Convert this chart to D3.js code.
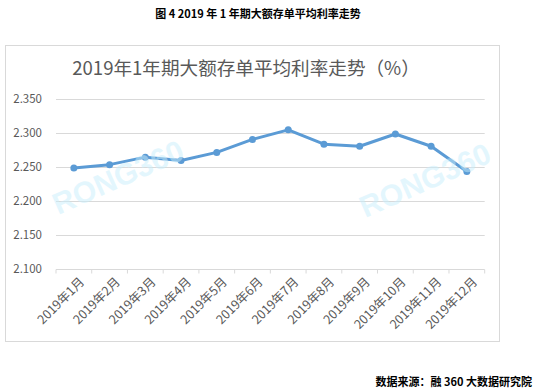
<!DOCTYPE html>
<html><head><meta charset="utf-8">
<script src="https://cdn.jsdelivr.net/npm/d3@7/dist/d3.min.js"></script>
<style>body{margin:0;background:#fff}svg{display:block}</style>
</head><body>
<script>
const months = ["2019年1月","2019年2月","2019年3月","2019年4月","2019年5月","2019年6月","2019年7月","2019年8月","2019年9月","2019年10月","2019年11月","2019年12月"];
const rates = [2.248,2.253,2.264,2.259,2.271,2.290,2.304,2.283,2.280,2.298,2.280,2.243];
const yTicks = [2.100,2.150,2.200,2.250,2.300,2.350];
const captionText = "图 4 2019 年 1 年期大额存单平均利率走势";
const chartTitle = "2019年1年期大额存单平均利率走势（%）";
const sourceText = "数据来源：融 360 大数据研究院";

const W=534,H=392;
const svg=d3.select("body").append("svg").attr("width",W).attr("height",H);
const font="'Microsoft YaHei','Noto Sans CJK SC',sans-serif";

svg.append("text").attr("x",258).attr("y",18).attr("text-anchor","middle")
 .attr("font-family","'Noto Sans CJK SC',sans-serif").attr("font-weight","bold").attr("font-size",11).attr("fill","#000").text(captionText);

svg.append("rect").attr("x",5.5).attr("y",45.5).attr("width",494).attr("height",296)
 .attr("fill","#fff").attr("stroke","#d9d9d9");

svg.append("text").attr("x",246).attr("y",75).attr("text-anchor","middle")
 .attr("font-family",font).attr("font-size",18.6).attr("fill","#595959").text(chartTitle);

const x=d3.scaleBand().domain(months).range([56,484.7]);
const y=d3.scaleLinear().domain([2.100,2.350]).range([269,98.5]);

// grid
svg.append("g").selectAll("line").data(yTicks.slice(1)).join("line")
 .attr("x1",56).attr("x2",484.7).attr("y1",d=>Math.round(y(d))+0.5).attr("y2",d=>Math.round(y(d))+0.5)
 .attr("stroke","#d9d9d9");

// y labels
svg.append("g").selectAll("text").data(yTicks).join("text")
 .attr("x",42).attr("y",d=>y(d)+4).attr("text-anchor","end")
 .attr("font-family",font).attr("font-size",11.5).attr("fill","#595959").text(d=>d.toFixed(3));

// x axis
const xa=svg.append("g").attr("transform","translate(0,"+(Math.round(y(2.1))+0.5)+")");
xa.append("line").attr("x1",56).attr("x2",484.7).attr("stroke","#d9d9d9");
const bounds=months.map(m=>x(m)).concat([x.range()[1]]);
xa.selectAll("line.t").data(bounds).join("line").attr("class","t")
 .attr("x1",d=>d).attr("x2",d=>d).attr("y1",0).attr("y2",4).attr("stroke","#d9d9d9");
xa.selectAll("text").data(months).join("text")
 .attr("transform",d=>`translate(${x(d)+x.bandwidth()/2+5},7) rotate(-45)`)
 .attr("text-anchor","end").attr("dy","0.7em")
 .attr("font-family",font).attr("font-size",12.5).attr("fill","#595959").text(d=>d);

// line
const cx=(d,i)=>x(months[i])+x.bandwidth()/2;
svg.append("path").datum(rates).attr("fill","none").attr("stroke","#5B9BD5").attr("stroke-width",3)
 .attr("stroke-linejoin","round").attr("d",d3.line().x(cx).y(d=>y(d)));
svg.append("g").selectAll("circle").data(rates).join("circle")
 .attr("cx",cx).attr("cy",d=>y(d)).attr("r",3.5).attr("fill","#5B9BD5");

// watermarks
[[118,177],[425,180]].forEach(p=>{
 svg.append("text").attr("transform",`translate(${p[0]},${p[1]}) rotate(-24)`)
  .attr("text-anchor","middle").attr("dy","0.35em")
  .attr("font-family","Arial,'Liberation Sans',sans-serif").attr("font-size",30).attr("font-weight","bold")
  .attr("fill","#c8eefc").attr("fill-opacity",0.5).text("RONG360");
});

svg.append("text").attr("x",532).attr("y",386).attr("text-anchor","end")
 .attr("font-family","'Noto Sans CJK SC',sans-serif").attr("font-weight","bold").attr("font-size",11).attr("fill","#000").text(sourceText);
</script>
</body></html>
